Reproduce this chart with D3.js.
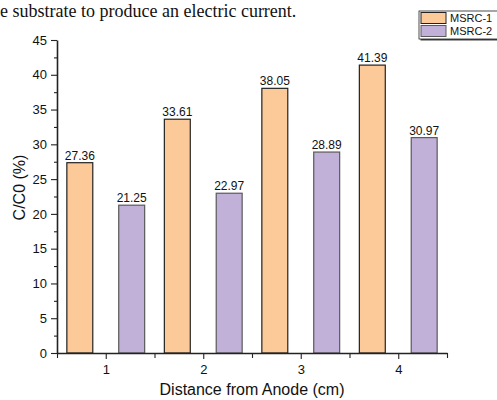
<!DOCTYPE html>
<html>
<head>
<meta charset="utf-8">
<script src="https://cdn.jsdelivr.net/npm/d3@7"></script>
<style>
  body { margin:0; background:#fff; }
  svg { display:block; font-family: "Liberation Sans", Arial, sans-serif; }
</style>
</head>
<body>
<div id="chart"></div>
<script>
// data
const categories = [1, 2, 3, 4];
const seriesNames = ['MSRC-1', 'MSRC-2'];
const msrc1 = [27.36, 33.61, 38.05, 41.39];
const msrc2 = [21.25, 22.97, 28.89, 30.97];
const yTicks = [0, 5, 10, 15, 20, 25, 30, 35, 40, 45];
const colors = ['#fcc998', '#c1b0d8'];
const strokes = ['#222', '#5a5a5a'];

const W = 497, H = 400;
const m = {left:57, right:50, top:40, bottom:47};

const svg = d3.select('#chart').append('svg').attr('width', W).attr('height', H);

// caption line from the page above (clipped in the source)
svg.append('text')
  .attr('x', 0).attr('y', 16.5)
  .style('font-family', '"Liberation Serif", "DejaVu Serif", serif')
  .style('font-size', '18px').attr('fill', '#111')
  .text('e substrate to produce an electric current.');

const x = d3.scaleLinear().domain([0.5, 4.5]).range([m.left, W - m.right]);
const y = d3.scaleLinear().domain([0, 45]).range([H - m.bottom, m.top]);
const bw = x(0.766) - x(0.5);
const off = 0.266;

const series = [msrc1, msrc2];
series.forEach((vals, s) => {
  const g = svg.append('g');
  vals.forEach((v, i) => {
    const cx = x(categories[i] + (s === 0 ? -off : off));
    g.append('rect')
      .attr('x', cx - bw/2).attr('y', y(v))
      .attr('width', bw).attr('height', y(0) - y(v))
      .attr('fill', colors[s]).attr('stroke', strokes[s]).attr('stroke-width', 1.2);
    g.append('text')
      .attr('x', cx).attr('y', y(v) - 3)
      .attr('text-anchor', 'middle').style('font-size', '12px').attr('fill', '#111')
      .text(v.toFixed(2));
  });
});

// y axis
svg.append('g').attr('transform', `translate(${m.left},0)`)
  .call(d3.axisLeft(y).tickValues(yTicks).tickSize(6).tickPadding(4).tickSizeOuter(0));
svg.append('g').attr('transform', `translate(${m.left},0)`)
  .call(d3.axisLeft(y).tickValues(d3.range(2.5, 45, 5)).tickSize(3).tickFormat('').tickSizeOuter(0))
  .select('.domain').remove();

// x axis
svg.append('g').attr('transform', `translate(0,${y(0)})`)
  .call(d3.axisBottom(x).tickValues(categories).tickFormat(d3.format('d')).tickSize(6).tickPadding(6).tickSizeOuter(0));
svg.append('g').attr('transform', `translate(0,${y(0)})`)
  .call(d3.axisBottom(x).tickValues([0.5, 1.5, 2.5, 3.5, 4.5]).tickSize(5).tickFormat('').tickSizeOuter(0))
  .select('.domain').remove();

svg.selectAll('.domain').attr('stroke', '#222').attr('stroke-width', 1.6);
svg.selectAll('.tick line').attr('stroke', '#222').attr('stroke-width', 1.1);
svg.selectAll('.tick text').style('font-size', '13px').attr('fill', '#111')
  .style('font-family', '"Liberation Sans", Arial, sans-serif');

// axis titles
svg.append('text')
  .attr('x', (m.left + W - m.right)/2).attr('y', 395)
  .attr('text-anchor', 'middle').style('font-size', '16px').attr('fill', '#111')
  .text('Distance from Anode (cm)');
svg.append('text')
  .attr('transform', `translate(25,${(m.top + H - m.bottom)/2 - 9}) rotate(-90)`)
  .attr('text-anchor', 'middle').style('font-size', '16px').attr('fill', '#111')
  .text('C/C0 (%)');

// legend
const lg = svg.append('g').attr('transform', 'translate(419,11)');
lg.append('rect').attr('x', 1.5).attr('y', 1.5).attr('width', 90).attr('height', 28)
  .attr('fill', '#444');
lg.append('rect').attr('x', 0).attr('y', 0).attr('width', 90).attr('height', 28)
  .attr('fill', '#fff').attr('stroke', '#222').attr('stroke-width', 0.8);
seriesNames.forEach((n, i) => {
  lg.append('rect').attr('x', 2).attr('y', 1.5 + i*13).attr('width', 25).attr('height', 11)
    .attr('fill', colors[i]).attr('stroke', strokes[i]).attr('stroke-width', 1);
  lg.append('text').attr('x', 31).attr('y', 11 + i*13)
    .style('font-size', '11px').attr('fill', '#111').text(n);
});
</script>
</body>
</html>
